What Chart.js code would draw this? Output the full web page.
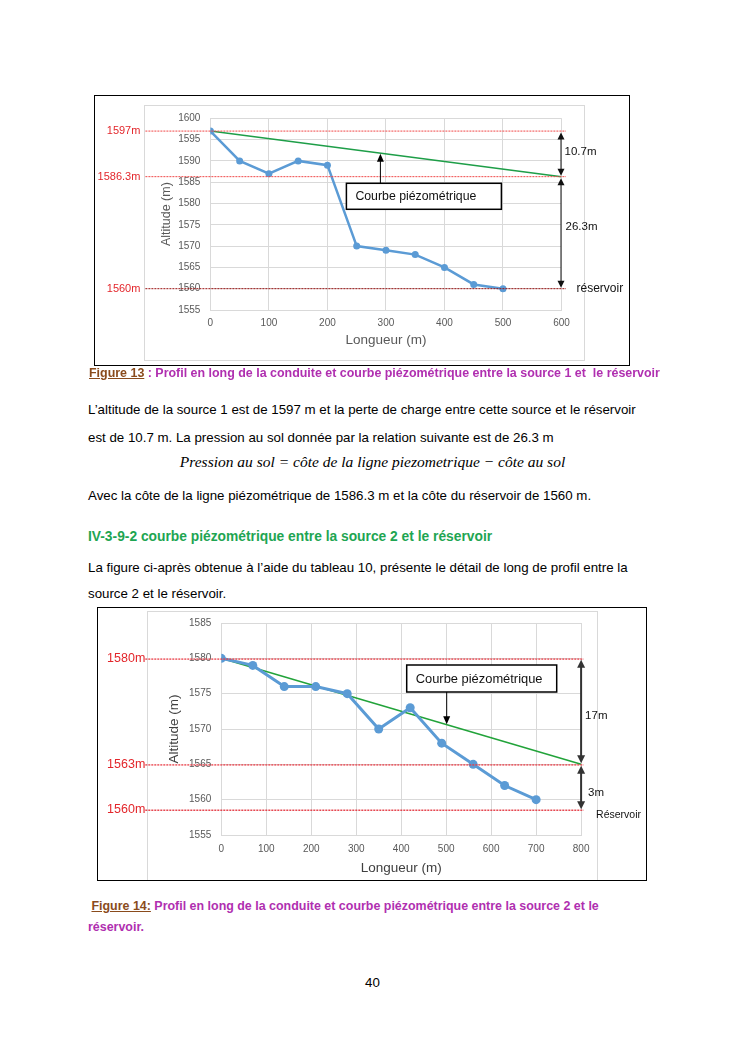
<!DOCTYPE html>
<html lang="fr">
<head>
<meta charset="utf-8">
<script src="https://cdn.jsdelivr.net/npm/chart.js@4.4.1/dist/chart.umd.min.js"></script>
<style>
  html, body { margin: 0; padding: 0; background: #fff; }
  body { width: 745px; height: 1053px; position: relative; overflow: hidden; font-family: "Liberation Sans", Arial, sans-serif; }
  .t { position: absolute; white-space: pre; line-height: 20px; color: #000; }
  .body { font-size: 13.3px; }
  .cap { font-size: 12.45px; font-weight: bold; color: #b02fb0; }
  .cap u { color: #8a4b1c; }
  .head { font-size: 13.8px; font-weight: bold; color: #1ea552; }
  .formula { font-family: "Liberation Serif", "DejaVu Serif", serif; font-style: italic; font-size: 15.5px; }
  .box { position: absolute; border: 1.5px solid #000; box-sizing: border-box; }
  .frame { position: absolute; border: 1px solid #d9d9d9; box-sizing: border-box; }
  canvas { position: absolute; }
</style>
</head>
<body>

<!-- Figure 13 -->
<div class="box" style="left:94px; top:95px; width:536px; height:271px;"></div>
<div class="frame" style="left:144px; top:105px; width:441px; height:256px;"></div>
<canvas id="c1" width="537" height="271" style="left:94px; top:95px;"></canvas>

<div class="t cap" style="left:89px; top:363px;"><u>Figure 13</u> : Profil en long de la conduite et courbe piézométrique entre la source 1 et  le réservoir</div>

<div class="t body" style="left:88px; top:400px;">L’altitude de la source 1 est de 1597 m et la perte de charge entre cette source et le réservoir</div>
<div class="t body" style="left:88px; top:428px;">est de 10.7 m. La pression au sol donnée par la relation suivante est de 26.3 m</div>
<div class="t formula" style="left:0; width:745px; text-align:center; top:452px;">Pression au sol = côte de la ligne piezometrique − côte au sol</div>
<div class="t body" style="left:88px; top:486px;">Avec la côte de la ligne piézométrique de 1586.3 m et la côte du réservoir de 1560 m.</div>
<div class="t head" style="left:88px; top:527px;">IV-3-9-2 courbe piézométrique entre la source 2 et le réservoir</div>
<div class="t body" style="left:88px; top:558px;">La figure ci-après obtenue à l’aide du tableau 10, présente le détail de long de profil entre la</div>
<div class="t body" style="left:88px; top:584px;">source 2 et le réservoir.</div>

<!-- Figure 14 -->
<div class="box" style="left:97px; top:607px; width:550px; height:274px;"></div>
<div class="frame" style="left:147px; top:611px; width:451px; height:269px; border-bottom:none;"></div>
<canvas id="c2" width="550" height="273" style="left:97px; top:607px;"></canvas>

<div class="t cap" style="left:88px; top:896px;"> <u>Figure 14:</u> Profil en long de la conduite et courbe piézométrique entre la source 2 et le</div>
<div class="t cap" style="left:88px; top:917px;">réservoir.</div>

<div class="t body" style="left:0; width:745px; text-align:center; top:973px;">40</div>

<script>
// ---------------- DATA : Figure 13 ----------------
const dist1 = [0, 50, 100, 150, 200, 250, 300, 350, 400, 450, 500];
const alt1  = [1597, 1590, 1587, 1590, 1589, 1570, 1569, 1568, 1565, 1561, 1560];
const piezoX1 = [0, 600];
const piezoY1 = [1597, 1586.3];
const refVals1   = [1597, 1586.3, 1560];
const refLabels1 = ['1597m', '1586.3m', '1560m'];
const dimFrom1  = [1597, 1586.3];
const dimTo1    = [1586.3, 1560];
const dimLabel1 = ['10.7m', '26.3m'];
const xRange1 = [0, 600];
const yRange1 = [1555, 1600];

// ---------------- DATA : Figure 14 ----------------
const dist2 = [0, 70, 140, 210, 280, 350, 420, 490, 560, 630, 700];
const alt2  = [1580, 1579, 1576, 1576, 1575, 1570, 1573, 1568, 1565, 1562, 1560];
const piezoX2 = [0, 800];
const piezoY2 = [1580, 1565];
const refVals2   = [1580, 1565, 1558.5];
const refLabels2 = ['1580m', '1563m', '1560m'];
const dimFrom2  = [1580, 1565];
const dimTo2    = [1565, 1558.5];
const dimLabel2 = ['17m', '3m'];
const xRange2 = [0, 800];
const yRange2 = [1555, 1585];

const boxText = 'Courbe piézométrique';

// ---------------- helpers ----------------
const FONT = '"Liberation Sans", Arial, sans-serif';
const toXY = (xs, ys) => xs.map((x, i) => ({ x, y: ys[i] }));
function interp(xs, ys, v) {
  for (let i = 0; i < xs.length - 1; i++) {
    if (v >= xs[i] && v <= xs[i + 1]) {
      const t = (v - xs[i]) / (xs[i + 1] - xs[i]);
      return ys[i] + t * (ys[i + 1] - ys[i]);
    }
  }
  return ys[ys.length - 1];
}
function arrowHead(ctx, x, y, dir, w, h) { // dir: -1 points up, +1 points down
  ctx.beginPath();
  ctx.moveTo(x, y);
  ctx.lineTo(x - w / 2, y - dir * h);
  ctx.lineTo(x + w / 2, y - dir * h);
  ctx.closePath();
  ctx.fill();
}

function makeAnnotPlugin(o) {
  return {
    id: 'annot',
    afterDraw(chart) {
      const { ctx, chartArea: a, scales: { x, y } } = chart;
      ctx.save();
      // reference lines + labels
      o.refVals.forEach((v, i) => {
        const py = y.getPixelForValue(v) + (o.refShift ? o.refShift[i] : 0);
        const lx = a.left + o.refLabelDx;
        ctx.font = o.refFont;
        ctx.fillStyle = '#e3262b';
        ctx.textAlign = 'right';
        ctx.textBaseline = 'middle';
        ctx.fillText(o.refLabels[i], lx, py + o.refLabelDy);
        ctx.strokeStyle = o.refColors[i];
        ctx.lineWidth = o.refWidth;
        ctx.setLineDash(o.refDash);
        ctx.beginPath();
        ctx.moveTo(lx + o.refGap, py);
        ctx.lineTo(a.right + o.refOver, py);
        ctx.stroke();
      });
      ctx.setLineDash([]);
      // dimension arrows
      const ax = a.right + o.dimDx;
      ctx.strokeStyle = o.dimColor;
      ctx.fillStyle = o.dimColor;
      ctx.lineWidth = o.dimWidth;
      o.dimFrom.forEach((f, i) => {
        const y1 = y.getPixelForValue(f) + 1.5;
        const y2 = y.getPixelForValue(o.dimTo[i]) - 1;
        ctx.beginPath();
        ctx.moveTo(ax, y1 + o.headH - 1);
        ctx.lineTo(ax, y2 - o.headH + 1);
        ctx.stroke();
        arrowHead(ctx, ax, y1, -1, o.headW, o.headH);
        arrowHead(ctx, ax, y2, 1, o.headW, o.headH);
        ctx.font = o.dimFont;
        ctx.fillStyle = '#111';
        ctx.textAlign = 'left';
        ctx.textBaseline = 'middle';
        ctx.fillText(o.dimLabel[i], a.right + o.dimLabelDx[i], (y1 + y2) / 2 + o.dimLabelDy[i]);
        ctx.fillStyle = o.dimColor;
      });
      // reservoir label
      ctx.font = o.resFont;
      ctx.fillStyle = '#111';
      ctx.textAlign = 'left';
      ctx.textBaseline = 'middle';
      ctx.fillText(o.resText, a.right + o.resDx, y.getPixelForValue(o.refVals[o.refVals.length - 1]) + o.resDy);
      // box with pointer to piezometric line
      const bx = a.left + o.boxDx, by = a.top + o.boxDy;
      ctx.fillStyle = '#fff';
      ctx.fillRect(bx, by, o.boxW, o.boxH);
      ctx.strokeStyle = '#000';
      ctx.lineWidth = 1.5;
      ctx.strokeRect(bx, by, o.boxW, o.boxH);
      ctx.font = o.boxFont;
      ctx.fillStyle = '#111';
      ctx.textAlign = 'left';
      ctx.fillText(boxText, bx + o.boxPad, by + o.boxH / 2 + 0.5);
      const px = bx + o.ptrDx;
      const pv = interp(o.piezoX, o.piezoY, x.getValueForPixel(px));
      const ty = y.getPixelForValue(pv);
      const sy = o.ptrUp ? by : by + o.boxH;
      const dir = o.ptrUp ? -1 : 1;
      ctx.strokeStyle = '#000';
      ctx.fillStyle = '#000';
      ctx.lineWidth = 1;
      ctx.beginPath();
      ctx.moveTo(px, sy);
      ctx.lineTo(px, ty - dir * 7);
      ctx.stroke();
      arrowHead(ctx, px, ty + (o.ptrUp ? 0.5 : -0.5), dir, 7, 8);
      ctx.restore();
    }
  };
}

const plainNum = v => String(v);

function makeChart(id, cfg) {
  return new Chart(document.getElementById(id), {
    type: 'line',
    data: {
      datasets: [
        {
          data: toXY(cfg.piezoX, cfg.piezoY),
          borderColor: cfg.greenColor, borderWidth: cfg.greenWidth,
          pointRadius: 0, tension: 0, fill: false, order: 2
        },
        {
          data: toXY(cfg.dist, cfg.alt),
          borderColor: '#5b9bd5', backgroundColor: '#5b9bd5',
          borderWidth: cfg.blueWidth, pointRadius: cfg.pointR, pointBorderWidth: 0,
          pointBackgroundColor: '#5b9bd5', tension: 0, fill: false, order: 1
        }
      ]
    },
    options: {
      responsive: false, animation: false, devicePixelRatio: 1,
      events: [],
      layout: { padding: cfg.padding },
      plugins: { legend: { display: false }, tooltip: { enabled: false } },
      scales: {
        x: {
          type: 'linear', min: cfg.xRange[0], max: cfg.xRange[1],
          ticks: { stepSize: 100, callback: plainNum, color: '#595959', font: { family: FONT, size: 10 }, padding: cfg.xTickPad, maxRotation: 0 },
          grid: { color: '#d9d9d9', drawTicks: false },
          border: { color: '#d9d9d9' },
          title: { display: true, text: 'Longueur (m)', color: cfg.titleColor, font: { family: FONT, size: cfg.xTitleSize }, padding: { top: 4, bottom: 4 } },
          afterFit: s => { s.height = cfg.xH; }
        },
        y: {
          min: cfg.yRange[0], max: cfg.yRange[1],
          ticks: { stepSize: 5, callback: plainNum, color: '#595959', font: { family: FONT, size: 10 }, padding: 10 },
          grid: { color: '#d9d9d9', drawTicks: false },
          border: { color: '#d9d9d9' },
          title: { display: true, text: 'Altitude (m)', color: cfg.titleColor, font: { family: FONT, size: cfg.yTitleSize }, padding: { top: 4, bottom: 4 } },
          afterFit: s => { s.width = cfg.yW; }
        }
      }
    },
    plugins: [makeAnnotPlugin(cfg.annot)]
  });
}

makeChart('c1', {
  dist: dist1, alt: alt1, piezoX: piezoX1, piezoY: piezoY1,
  xRange: xRange1, yRange: yRange1,
  greenColor: '#1e9e48', greenWidth: 1.5, blueWidth: 2.5, pointR: 3.5,
  padding: { left: 61, right: 69.5, top: 23.3, bottom: 14 },
  yW: 55.4, xH: 42, xTickPad: 7, titleColor: '#595959', xTitleSize: 13.5, yTitleSize: 12.5,
  annot: {
    refVals: refVals1, refLabels: refLabels1,
    refColors: ['#f04848', '#f04848', '#9a1010'],
    refWidth: 1, refDash: [2, 1], refFont: '11px ' + FONT,
    refLabelDx: -70, refLabelDy: 0, refGap: 5, refOver: 4.5,
    dimFrom: dimFrom1, dimTo: dimTo1, dimLabel: dimLabel1,
    dimDx: -0.5, dimColor: '#111', dimWidth: 1, headW: 7, headH: 7,
    dimFont: '11.5px ' + FONT, dimLabelDx: [3, 4], dimLabelDy: [-2, -6],
    resText: 'réservoir', resFont: '12px ' + FONT, resDx: 15, resDy: 0,
    boxDx: 136, boxDy: 65, boxW: 155, boxH: 26, boxPad: 9, boxFont: '12.3px ' + FONT,
    ptrDx: 34, ptrUp: true, piezoX: piezoX1, piezoY: piezoY1
  }
});

makeChart('c2', {
  dist: dist2, alt: alt2, piezoX: piezoX2, piezoY: piezoY2,
  xRange: xRange2, yRange: yRange2,
  greenColor: '#22a33a', greenWidth: 1.5, blueWidth: 3, pointR: 4.5,
  padding: { left: 65, right: 65.9, top: 15.5, bottom: 0 },
  yW: 59.3, xH: 45, xTickPad: 8, titleColor: '#404040', xTitleSize: 13.5, yTitleSize: 13.5,
  annot: {
    refVals: refVals2, refLabels: refLabels2,
    refColors: ['rgba(232,60,70,0.75)', 'rgba(232,60,70,0.75)', 'rgba(225,40,50,0.85)'],
    refShift: [0.8, 0.5, 0],
    refWidth: 1.6, refDash: [2, 1], refFont: '12.5px ' + FONT,
    refLabelDx: -76, refLabelDy: -0.5, refGap: 0, refOver: 2.5,
    dimFrom: dimFrom2, dimTo: dimTo2, dimLabel: dimLabel2,
    dimDx: 0, dimColor: '#333', dimWidth: 2, headW: 8, headH: 8,
    dimFont: '11.5px ' + FONT, dimLabelDx: [4, 7], dimLabelDy: [4, 5],
    resText: 'Réservoir', resFont: '10.5px ' + FONT, resDx: 15, resDy: 5,
    boxDx: 185.4, boxDy: 42, boxW: 150, boxH: 27, boxPad: 9, boxFont: '12.9px ' + FONT,
    ptrDx: 40, ptrUp: false, piezoX: piezoX2, piezoY: piezoY2
  }
});
</script>
</body>
</html>
